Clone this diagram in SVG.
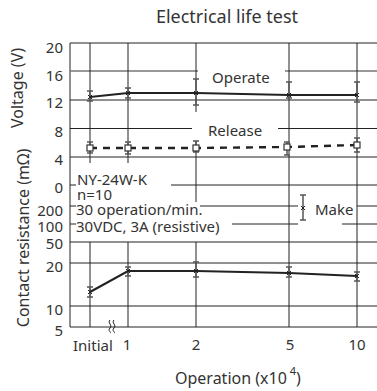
<svg xmlns="http://www.w3.org/2000/svg" width="377" height="391" viewBox="0 0 377 391">
<style>
text{font-family:"Noto Sans","Open Sans","DejaVu Sans",sans-serif;fill:#333}
.t{font-size:15px}
.tk{font-size:15px;text-anchor:end}
.ax{font-size:16px;text-anchor:middle}
.g{stroke:#222;stroke-width:1;fill:none}
.gl{stroke:#777;stroke-width:1.3;fill:none}
.eb{stroke:#555;stroke-width:1.5;fill:none}
.ln{stroke:#222;stroke-width:2.2;fill:none}
.dl{stroke:#222;stroke-width:2.4;fill:none;stroke-dasharray:7 6}
.mk{stroke:#222;stroke-width:1;fill:none}
.sq{stroke:#333;stroke-width:1.2;fill:#fff}
</style>
<defs>
<g id="x"><path class="mk" d="M-2,-2L2,2M-2,2L2,-2"/></g>
</defs>
<text x="227" y="23" style="font-size:18px;text-anchor:middle">Electrical life test</text>
<g id="grid">
<path class="g" d="M70,43V327"/>
<path class="g" d="M70,43H377M70,100H377M70,157H377M70,242H377M70,263H377M70,306H377M70,327H377"/>
<path class="gl" d="M70,71H198M285,71H377"/>
<path class="g" d="M70,128.5H192M278,128.5H377"/>
<path class="g" d="M70,185H76M171,185H377"/>
<path class="g" d="M70,206H76M200,206H298M357,206H377"/>
<path class="g" d="M70,224H76M232,224H298M342,224H377"/>
<path class="g" d="M90,43V163M90,242V327M128,43V163M128,242V327"/>
<path class="g" d="M196,43V112M196,141V202M196,242V327"/>
<path class="g" d="M289,43V327M357,43V327"/>
</g>
<g id="ticks">
<text class="tk" x="63" y="53">20</text>
<text class="tk" x="63" y="81">16</text>
<text class="tk" x="63" y="108">12</text>
<text class="tk" x="63" y="137">8</text>
<text class="tk" x="63" y="165">4</text>
<text class="tk" x="63" y="193">0</text>
<text class="tk" x="63" y="216">200</text>
<text class="tk" x="63" y="232">100</text>
<text class="tk" x="63" y="249">50</text>
<text class="tk" x="63" y="272">20</text>
<text class="tk" x="63" y="315">10</text>
<text class="tk" x="63" y="336">5</text>
<text class="t" x="73" y="351">Initial</text>
<text class="t" x="127" y="350" text-anchor="middle">1</text>
<text class="t" x="196" y="350" text-anchor="middle">2</text>
<text class="t" x="290" y="350" text-anchor="middle">5</text>
<text class="t" x="357" y="350" text-anchor="middle">10</text>
<path class="mk" d="M110,320c-3,3 3,5 0,8s2,4 0,5M114,320c-3,3 3,5 0,8s2,4 0,5"/>
</g>
<g id="axis-titles">
<text class="ax" transform="translate(23,88) rotate(-90)">Voltage (V)</text>
<text class="ax" transform="translate(29,238) rotate(-90)">Contact resistance (mΩ)</text>
<text class="ax" x="175" y="384" style="text-anchor:start">Operation (x10<tspan dy="-9" style="font-size:11px"> 4</tspan><tspan dy="9">)</tspan></text>
</g>
<g id="operate">
<path class="eb" d="M90,91V101M87,91H93M87,101H93M128,88V98M125,88H131M125,98H131M196,79V105M193,79H199M193,105H199M289,82V98M286,82H292M286,98H292M357,82V102M354,82H360M354,102H360"/>
<path class="ln" d="M90,97L128,93L196,93L289,95L357,95"/>
<use href="#x" x="90" y="97"/><use href="#x" x="128" y="93"/><use href="#x" x="196" y="93"/><use href="#x" x="289" y="95"/><use href="#x" x="357" y="95"/>
<text class="t" x="212" y="82.5">Operate</text>
</g>
<g id="release">
<path class="eb" d="M90,142V153M87,142H93M87,153H93M128,142V154M125,142H131M125,154H131M196,141V152M193,141H199M193,152H199M287,142V155M284,142H290M284,155H290M357,138V152M354,138H360M354,152H360"/>
<path class="dl" d="M90,148L128,148L196,148L287,147L357,145"/>
<rect class="sq" x="87" y="145" width="6" height="6"/><rect class="sq" x="125" y="145" width="6" height="6"/><rect class="sq" x="193" y="145" width="6" height="6"/><rect class="sq" x="284" y="144" width="6" height="6"/><rect class="sq" x="354" y="142" width="6" height="6"/>
<text class="t" x="208" y="136">Release</text>
</g>
<g id="resistance">
<path class="eb" d="M90,287V297M87,287H93M87,297H93M128,267V276M125,267H131M125,276H131M196,262V277M193,262H199M193,277H199M289,267V277M286,267H292M286,277H292M357,272V281M354,272H360M354,281H360"/>
<path class="ln" d="M90,292L128,271L196,271L289,273L357,276"/>
<use href="#x" x="90" y="292"/><use href="#x" x="128" y="271"/><use href="#x" x="196" y="271"/><use href="#x" x="289" y="273"/><use href="#x" x="357" y="276"/>
</g>
<g id="conditions">
<text class="t" x="77" y="185">NY-24W-K</text>
<text class="t" x="77" y="200">n=10</text>
<text class="t" x="76" y="215">30 operation/min.</text>
<text class="t" x="76" y="232">30VDC, 3A (resistive)</text>
</g>
<g id="legend">
<path class="eb" d="M303,195V220M300,195H306M300,220H306"/>
<use href="#x" x="303" y="208"/>
<text class="t" x="315" y="215">Make</text>
</g>
</svg>
